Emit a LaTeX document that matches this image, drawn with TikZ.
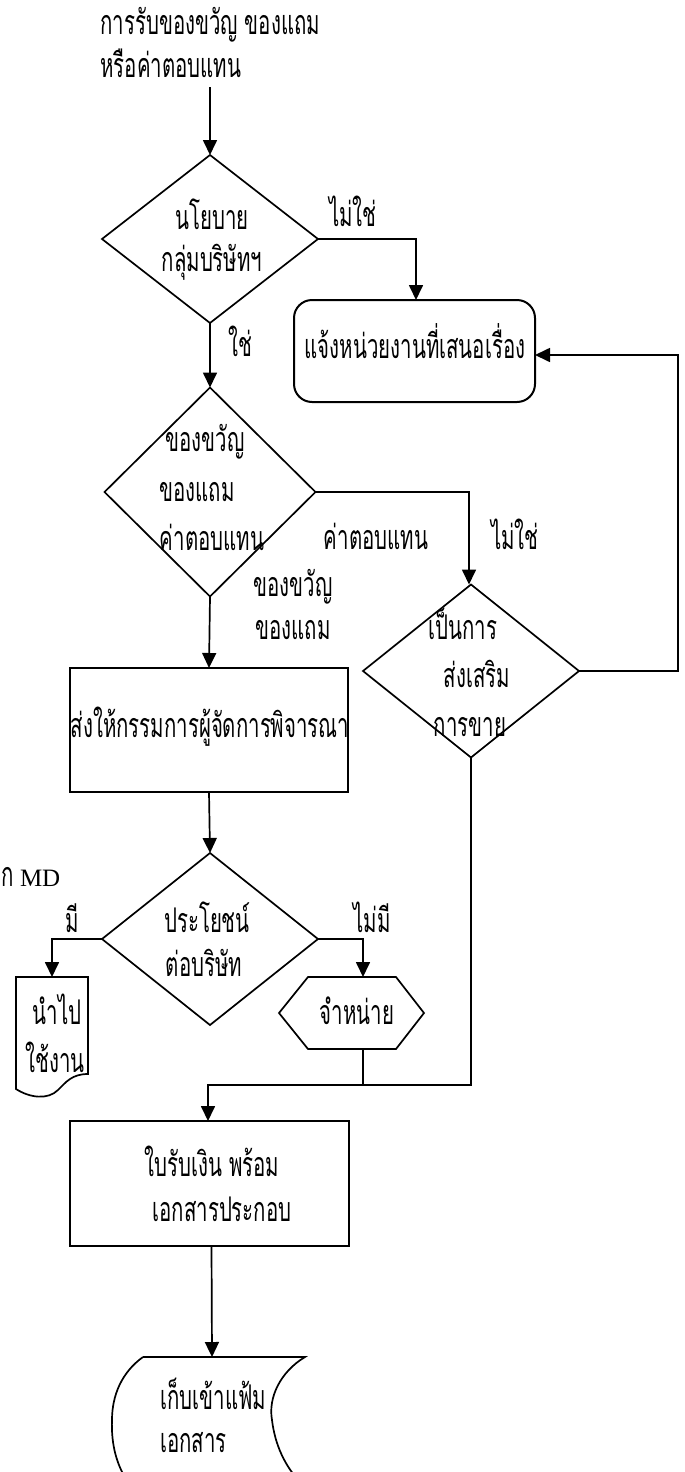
\documentclass[tikz,border=0pt]{standalone}
\usepackage{fontspec}
\setmainfont{Liberation Serif}
\newfontfamily\thaifont[Script=Thai,FakeStretch=0.6]{Loma}
\usetikzlibrary{arrows.meta,shapes.geometric}
\begin{document}
\begin{tikzpicture}[x=0.5pt,y=-0.5pt,
  ln/.style={line width=0.85pt},
  arr/.style={line width=0.85pt,-{Triangle[width=7pt,length=7.5pt]}},
  txt/.style={font=\thaifont\fontsize{17}{19}\selectfont,inner sep=0pt,text height=9.5pt,text depth=0pt},
  lat/.style={font=\fontsize{12.5}{14}\selectfont,inner sep=0pt,text height=8pt,text depth=0pt},
  dia/.style={diamond,draw,line width=0.85pt,inner sep=0pt,outer sep=0pt},
  boxs/.style={rectangle,draw,line width=1pt,inner sep=0pt,outer sep=0pt},
  rbox/.style={rectangle,rounded corners=9pt,draw,line width=1pt,inner sep=0pt,outer sep=0pt}
]
\useasboundingbox (0,0) rectangle (685,1472);

% shapes
\node[dia,minimum width=108pt,minimum height=84pt] (d1) at (210,239) {};
\node[dia,minimum width=105.5pt,minimum height=104.5pt] (d2) at (210,492) {};
\node[dia,minimum width=108pt,minimum height=86.5pt] (d3) at (471,671) {};
\node[dia,minimum width=108pt,minimum height=86pt] (d4) at (210,939) {};
\node[rbox,minimum width=120.5pt,minimum height=51pt] (r1) at (414.5,351) {};
\node[boxs,minimum width=139pt,minimum height=62pt] (b1) at (209,730) {};
\node[boxs,minimum width=139.5pt,minimum height=62.5pt] (b2) at (209.5,1183.5) {};

% hexagon (preparation)
\draw[ln] (279,1013) -- (308,977) -- (396,977) -- (424,1013) -- (396,1049) -- (308,1049) -- cycle;
\coordinate (hxtop) at (363,977);
\coordinate (hxbot) at (363,1049);

% document shape
\draw[ln] (16,977) -- (88,977) -- (88,1074)
  .. controls (72,1074) and (66,1082) .. (58,1090)
  .. controls (48,1100) and (30,1098) .. (16,1089) -- cycle;
\coordinate (doctop) at (52,977);

% stored data shape
\draw[ln] (143,1357) -- (305,1357)
  .. controls (280,1372) and (268,1398) .. (272,1420)
  .. controls (275,1445) and (285,1466) .. (300,1482)
  -- (128,1482)
  .. controls (117,1466) and (111,1445) .. (112,1420)
  .. controls (112,1395) and (122,1372) .. (143,1357);
\coordinate (sttop) at (212,1357);

% coordinates
\coordinate (t0) at (210,87);
\coordinate (c1) at (678,671);
\coordinate (jr) at (471,1085);

% connectors
\draw[arr] (t0) -- (d1.north);
\draw[arr] (d1.east) -| ([xshift=0.75pt]r1.north);
\draw[arr] (d1.south) -- (d2.north);
\draw[arr] (d2.east) -| ([xshift=-1pt]d3.north);
\draw[arr] (d2.south) -- (b1.north);
\draw[arr] (d3.east) -- (c1) |- ([yshift=-2pt]r1.east);
\draw[arr] (b1.south) -- (d4.north);
\draw[arr] (d4.west) -| (doctop);
\draw[arr] (d4.east) -| (hxtop);
\draw[ln] (hxbot) -- (hxbot |- jr);
\draw[arr] (d3.south) -- (jr) -| ([xshift=-0.75pt]b2.north);
\draw[arr] ([xshift=1pt]b2.south) -- (sttop);

% texts
\node[txt,anchor=west] (ti1) at (100,25) {การรับของขวัญ ของแถม};
\node[txt,anchor=west] (ti2) at (100,68) {หรือค่าตอบแทน};
\node[txt] (d1a) at (212,220) {นโยบาย};
\node[txt] (d1b) at (212,262) {กลุ่มบริษัทฯ};
\node[txt] (l1) at (353,217) {ไม่ใช่};
\node[txt] (l2) at (240,347) {ใช่};
\node[txt] (r1t) at (415,349) {แจ้งหน่วยงานที่เสนอเรื่อง};
\node[txt] (d2a) at (205,442) {ของขวัญ};
\node[txt] (d2b) at (197,492) {ของแถม};
\node[txt] (d2c) at (212,541) {ค่าตอบแทน};
\node[txt] (l3) at (376,540) {ค่าตอบแทน};
\node[txt] (l4) at (515,540) {ไม่ใช่};
\node[txt] (l5) at (293,587) {ของขวัญ};
\node[txt] (l6) at (293,630) {ของแถม};
\node[txt] (d3a) at (463,630) {เป็นการ};
\node[txt] (d3b) at (477,678) {ส่งเสริม};
\node[txt] (d3c) at (470,727) {การขาย};
\node[txt] (b1t) at (210,728) {ส่งให้กรรมการผู้จัดการพิจารณา};
\node[lat,anchor=west] (md) at (1,878) {{\thaifont\fontsize{17}{19}\selectfont ก} MD};
\node[txt] (l7) at (72,923) {มี};
\node[txt] (l8) at (372,923) {ไม่มี};
\node[txt] (d4a) at (207,923) {ประโยชน์};
\node[txt] (d4b) at (204,967) {ต่อบริษัท};
\node[txt] (doca) at (57,1015) {นำไป};
\node[txt] (docb) at (55,1063) {ใช้งาน};
\node[txt] (hxt) at (357,1015) {จำหน่าย};
\node[txt] (b2a) at (212,1167) {ใบรับเงิน พร้อม};
\node[txt] (b2b) at (222,1212) {เอกสารประกอบ};
\node[txt,anchor=west] (sta) at (160,1400) {เก็บเข้าแฟ้ม};
\node[txt,anchor=west] (stb) at (160,1443) {เอกสาร};
\end{tikzpicture}
\end{document}
